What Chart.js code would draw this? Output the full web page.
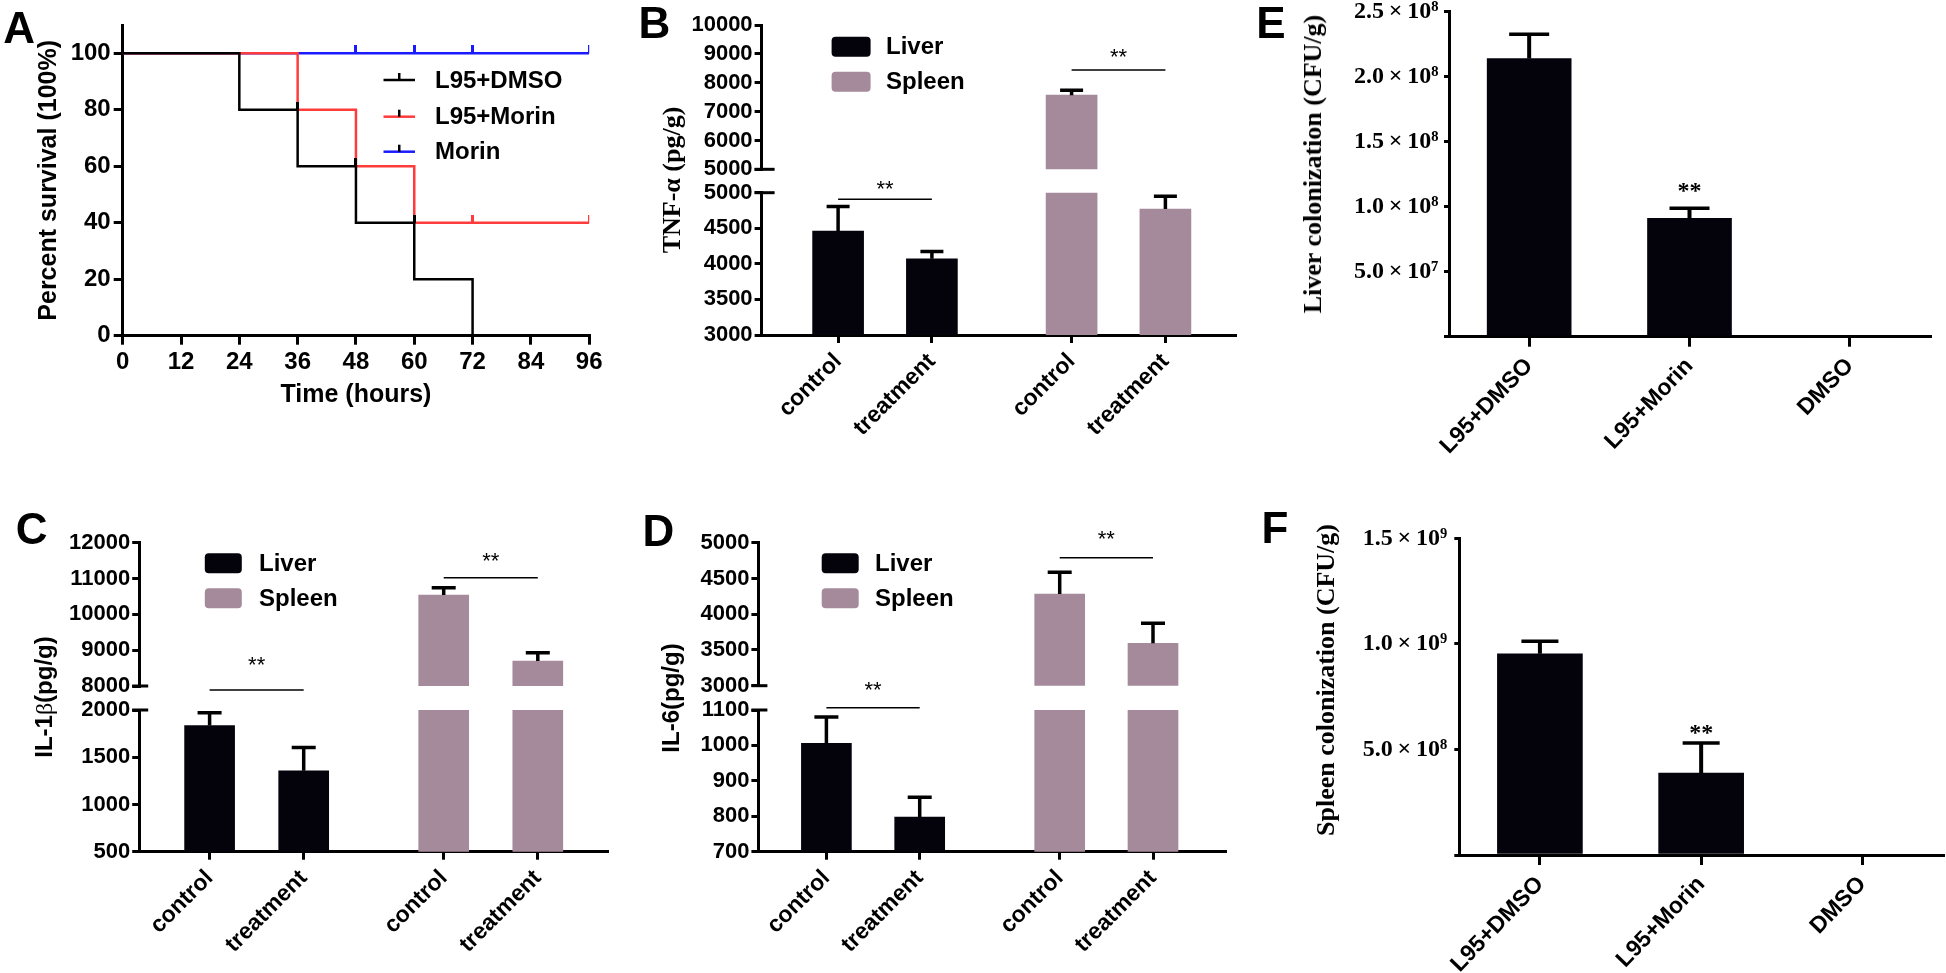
<!DOCTYPE html>
<html>
<head>
<meta charset="utf-8">
<title>Survival, cytokines and bacterial colonization</title>
<script src="https://cdn.jsdelivr.net/npm/chart.js@4.4.1/dist/chart.umd.min.js"></script>
<style>
  html,body{margin:0;padding:0;background:#fff;}
  #fig{position:relative;width:1946px;height:973px;overflow:hidden;background:#fff;}
  #fig canvas{position:absolute;}
  .panel-letter{position:absolute;transform:translate(-50%,-50%);font:bold 44px "Liberation Sans",Arial,sans-serif;line-height:1;color:#000;}
  .ytitle{position:absolute;white-space:nowrap;transform:translate(-50%,-50%) rotate(-90deg);line-height:1;color:#000;font-weight:bold;}
</style>
</head>
<body>
<div id="fig"></div>
<script>
// ======================= DATA =======================
// Panel A - survival
const timeTicks = [0, 12, 24, 36, 48, 60, 72, 84, 96];
const survivalTicks = [0, 20, 40, 60, 80, 100];
const survivalGroups = ['L95+DMSO', 'L95+Morin', 'Morin'];
const dmsoTimes = [0, 24, 36, 48, 60, 72];
const dmsoSurvival = [100, 80, 60, 40, 20, 0];
const dmsoCensored = [36, 48, 60];
const l95MorinTimes = [0, 36, 48, 60, 96];
const l95MorinSurvival = [100, 80, 60, 40, 40];
const l95MorinCensored = [72, 96];
const morinTimes = [0, 96];
const morinSurvival = [100, 100];
const morinCensored = [48, 60, 72, 96];

// Panels B-D - cytokines
const treatmentGroups = ['control', 'treatment'];
const tissueNames = ['Liver', 'Spleen'];

const tnfLiver = [4460, 4070];
const tnfLiverSem = [345, 105];
const tnfSpleen = [7570, 4770];
const tnfSpleenSem = [170, 180];
const tnfUpperTicks = [5000, 6000, 7000, 8000, 9000, 10000];
const tnfLowerTicks = [3000, 3500, 4000, 4500, 5000];

const il1bLiver = [1835, 1357];
const il1bLiverSem = [137, 245];
const il1bSpleen = [10540, 8695];
const il1bSpleenSem = [205, 235];
const il1bUpperTicks = [8000, 9000, 10000, 11000, 12000];
const il1bLowerTicks = [500, 1000, 1500, 2000];

const il6Liver = [1006, 798];
const il6LiverSem = [74, 56];
const il6Spleen = [4282, 3593];
const il6SpleenSem = [304, 281];
const il6UpperTicks = [3000, 3500, 4000, 4500, 5000];
const il6LowerTicks = [700, 800, 900, 1000, 1100];

// Panels E-F - colonization
const colonGroups = ['L95+DMSO', 'L95+Morin', 'DMSO'];
const liverCFU = [2.14e8, 0.91e8, 0];
const liverCFUSem = [0.186e8, 0.078e8, 0];
const liverCFUTicks = [0, 0.5e8, 1.0e8, 1.5e8, 2.0e8, 2.5e8];
const spleenCFU = [0.953e9, 0.388e9, 0];
const spleenCFUSem = [0.059e9, 0.142e9, 0];
const spleenCFUTicks = [0, 0.5e9, 1.0e9, 1.5e9];

// ======================= STYLE =======================
const SANS = '"Liberation Sans", Arial, Helvetica, sans-serif';
const SERIF = '"Liberation Serif", "Times New Roman", Times, serif';
const BLACK = '#000000', RED = '#ff3b3b', BLUE = '#1a1aff';
const LIVER_FILL = '#04030c', SPLEEN_FILL = '#a48a9a';

Chart.defaults.font.family = SANS;
Chart.defaults.font.weight = 'bold';
Chart.defaults.color = '#000';
Chart.defaults.animation = false;

const fig = document.getElementById('fig');
function place(box) {
  const c = document.createElement('canvas');
  c.width = box.w; c.height = box.h;
  c.style.left = box.x + 'px'; c.style.top = box.y + 'px';
  c.style.width = box.w + 'px'; c.style.height = box.h + 'px';
  fig.appendChild(c);
  return c;
}
function fixLayout(box, area, hasX) {
  return { padding: { left: 0, top: area.t - box.y, right: box.x + box.w - area.r,
                      bottom: hasX ? 0 : box.y + box.h - area.b } };
}
function axisLook(tickLen, w) {
  return {
    border: { display: true, color: '#000', width: w },
    grid: { display: true, drawOnChartArea: false, drawTicks: true, tickLength: tickLen,
            color: '#000', lineWidth: w, offset: false }
  };
}
const SUP = '⁰¹²³⁴⁵⁶⁷⁸⁹';
function sci(v) {
  const e = Math.floor(Math.log10(v) + 1e-9);
  const m = v / Math.pow(10, e);
  return m.toFixed(1) + '\u2009×\u200910' + String(e).split('').map(d => SUP[+d]).join('');
}

// ======================= PLUGINS =======================
function semBars(s) {
  return { id: 'semBars', afterDatasetsDraw(chart) {
    const { ctx, chartArea: a } = chart;
    ctx.save();
    ctx.beginPath(); ctx.rect(a.left, a.top - 2, a.right - a.left, a.bottom - a.top + 2); ctx.clip();
    ctx.strokeStyle = '#000';
    chart.data.datasets.forEach((ds, di) => {
      if (!ds.sem) return;
      const meta = chart.getDatasetMeta(di);
      const ys = chart.scales[meta.yAxisID];
      meta.data.forEach((bar, i) => {
        const e = ds.sem[i];
        if (!e) return;
        const v = meta.controller.getParsed(i).y;
        if (v + e < ys.min || v > ys.max) return;   // whole error bar outside this axis segment
        const yTop = ys.getPixelForValue(v + e);
        const yBase = ys.getPixelForValue(v);
        ctx.lineWidth = s.stem;
        ctx.beginPath(); ctx.moveTo(bar.x, yBase); ctx.lineTo(bar.x, yTop); ctx.stroke();
        if (v + e <= ys.max) {
          ctx.lineWidth = s.cap;
          ctx.beginPath(); ctx.moveTo(bar.x - s.capW / 2, yTop); ctx.lineTo(bar.x + s.capW / 2, yTop); ctx.stroke();
        }
      });
    });
    ctx.restore();
  } };
}
function sigMarks(s) {
  return { id: 'sigMarks', afterDatasetsDraw(chart) {
    const ctx = chart.ctx, xs = chart.scales.x, ys = chart.scales.y;
    ctx.save();
    ctx.fillStyle = '#000'; ctx.strokeStyle = '#000';
    ctx.font = s.font; ctx.textAlign = 'center'; ctx.textBaseline = 'alphabetic';
    s.marks.forEach(m => {
      let cx, cy;
      if (m.from !== undefined) {
        const x1 = xs.getPixelForValue(m.from), x2 = xs.getPixelForValue(m.to);
        const y = ys.getPixelForValue(m.value);
        ctx.lineWidth = 1.6;
        ctx.beginPath(); ctx.moveTo(x1, y); ctx.lineTo(x2, y); ctx.stroke();
        cx = (x1 + x2) / 2; cy = y - m.gap;
      } else {
        const ds = chart.data.datasets[0];
        const v = ds.data[m.at] + (ds.sem ? ds.sem[m.at] : 0);
        cx = xs.getPixelForValue(m.at); cy = ys.getPixelForValue(v) - m.gap;
      }
      ctx.fillText('**', cx, cy + s.shift);
    });
    ctx.restore();
  } };
}
function barLegend(s) {
  return { id: 'barLegend', afterDraw(chart) {
    const ctx = chart.ctx;
    ctx.save();
    ctx.font = 'bold ' + s.size + 'px ' + SANS; ctx.textBaseline = 'middle'; ctx.textAlign = 'left';
    chart.data.datasets.forEach((ds, k) => {
      const y = s.rows[k];
      ctx.fillStyle = ds.backgroundColor;
      ctx.beginPath(); ctx.roundRect(s.x, y - s.h / 2, s.w, s.h, 4); ctx.fill();
      ctx.fillStyle = '#000'; ctx.fillText(ds.label, s.textX, y + 1);
    });
    ctx.restore();
  } };
}
function breakMark(s) {
  return { id: 'breakMark', afterDraw(chart) {
    const a = chart.chartArea, ctx = chart.ctx;
    const y = s.edge === 'top' ? a.top : a.bottom;
    ctx.save(); ctx.strokeStyle = '#000'; ctx.lineWidth = 3;
    ctx.beginPath(); ctx.moveTo(a.left - s.left, y); ctx.lineTo(a.left + s.right, y); ctx.stroke();
    ctx.restore();
  } };
}
function survivalLegend(s) {
  return { id: 'survivalLegend', afterDraw(chart) {
    const ctx = chart.ctx;
    ctx.save();
    ctx.font = 'bold ' + s.size + 'px ' + SANS; ctx.textBaseline = 'middle'; ctx.textAlign = 'left';
    chart.data.datasets.filter(d => d.inLegend).forEach((ds, k) => {
      const y = s.rows[k], mid = (s.x1 + s.x2) / 2;
      ctx.strokeStyle = ds.borderColor; ctx.lineWidth = 2.5;
      ctx.beginPath(); ctx.moveTo(s.x1, y); ctx.lineTo(s.x2, y); ctx.stroke();
      ctx.strokeStyle = '#000';
      ctx.beginPath(); ctx.moveTo(mid, y); ctx.lineTo(mid, y - 7); ctx.stroke();
      ctx.fillStyle = '#000'; ctx.fillText(ds.label, s.textX, y + 1);
    });
    ctx.restore();
  } };
}

// ======================= PANEL A =======================
function survivalBefore(times, surv, t) {
  let v = surv[0];
  for (let i = 0; i < times.length; i++) if (times[i] < t) v = surv[i];
  return v;
}
function censorMark(color) {
  const c = document.createElement('canvas');
  c.width = 3; c.height = 16;
  const g = c.getContext('2d'); g.fillStyle = color; g.fillRect(0, 0, 3, 8);
  return c;
}
function stepSet(label, times, surv, color, order) {
  return { label, inLegend: true, order, data: times.map((t, i) => ({ x: t, y: surv[i] })),
           borderColor: color, backgroundColor: color, borderWidth: 2.5, stepped: true,
           pointRadius: 0, fill: false, tension: 0 };
}
function censorSet(times, surv, cens, color) {
  return { label: '', inLegend: false, order: -1, showLine: false,
           data: cens.map(t => ({ x: t, y: survivalBefore(times, surv, t) })),
           pointStyle: censorMark(color), pointRadius: 5, borderColor: color, backgroundColor: color };
}
(function () {
  const box = { x: 0, y: 0, w: 620, h: 420 };
  const area = { l: 122.7, r: 589.2, t: 25, b: 335.7 };
  new Chart(place(box), {
    type: 'line',
    data: { datasets: [
      stepSet(survivalGroups[0], dmsoTimes, dmsoSurvival, BLACK, 0),
      stepSet(survivalGroups[1], l95MorinTimes, l95MorinSurvival, RED, 1),
      stepSet(survivalGroups[2], morinTimes, morinSurvival, BLUE, 2),
      censorSet(dmsoTimes, dmsoSurvival, dmsoCensored, BLACK),
      censorSet(l95MorinTimes, l95MorinSurvival, l95MorinCensored, RED),
      censorSet(morinTimes, morinSurvival, morinCensored, BLUE)
    ] },
    options: {
      responsive: false, animation: false, events: [], devicePixelRatio: 1,
      layout: fixLayout(box, area, true),
      plugins: { legend: { display: false }, tooltip: { enabled: false } },
      scales: {
        x: { type: 'linear', min: 0, max: 96,
             afterBuildTicks: s => { s.ticks = timeTicks.map(v => ({ value: v })); },
             afterFit: s => { s.height = box.y + box.h - area.b; },
             ticks: { font: { size: 24, weight: 'bold' }, padding: 3, autoSkip: false, maxRotation: 0 },
             title: { display: true, text: 'Time (hours)', font: { size: 25, weight: 'bold' }, padding: { top: 0, bottom: 10 } },
             ...axisLook(9, 3) },
        y: { type: 'linear', min: 0, max: 110,
             afterBuildTicks: s => { s.ticks = survivalTicks.map(v => ({ value: v })); },
             afterFit: s => { s.width = area.l - box.x; },
             ticks: { font: { size: 24, weight: 'bold' }, padding: 3, autoSkip: false },
             title: { display: true, text: 'Percent survival (100%)', font: { size: 25, weight: 'bold' }, padding: { top: 34, bottom: 0 } },
             ...axisLook(9, 3) }
      }
    },
    plugins: [survivalLegend({ x1: 383.5, x2: 415, textX: 435, rows: [80, 116.7, 151.7], size: 24 })]
  });
})();

// ======================= PANELS B-D =======================
function brokenPanel(p) {
  const unit = p.ticksPx[1] - p.ticksPx[0];
  const groupStep = (p.ticksPx[2] - p.ticksPx[0]) / unit;
  const pos = [0, 1, groupStep, groupStep + 1];
  const xMin = -(p.ticksPx[0] - p.axisX) / unit;
  const xMax = (p.axisRight - p.ticksPx[0]) / unit;
  const ox = p.box.x, oy = p.box.y;
  const makeData = () => ({ datasets: [
    { label: tissueNames[0], data: p.liver.map((v, i) => ({ x: pos[i], y: v })), sem: p.liverSem,
      backgroundColor: LIVER_FILL, barThickness: p.barW, grouped: false, clip: 0, borderWidth: 0 },
    { label: tissueNames[1], data: p.spleen.map((v, i) => ({ x: pos[2 + i], y: v })), sem: p.spleenSem,
      backgroundColor: SPLEEN_FILL, barThickness: p.barW, grouped: false, clip: 0, borderWidth: 0 }
  ] });
  const yScale = ticks => ({
    type: 'linear', min: ticks[0], max: ticks[ticks.length - 1], beginAtZero: false,
    afterBuildTicks: s => { s.ticks = ticks.map(v => ({ value: v })); },
    afterFit: s => { s.width = p.axisX - ox; },
    ticks: { callback: v => String(v), font: { size: 22, weight: 'bold' }, padding: 2, autoSkip: false },
    ...axisLook(7, 3)
  });
  const xScale = show => {
    const sc = {
      type: 'linear', min: xMin, max: xMax, offset: false, display: show,
      afterBuildTicks: s => { s.ticks = pos.map(v => ({ value: v })); },
      ticks: { callback: (v, i) => treatmentGroups[i % 2], minRotation: 45, maxRotation: 45, autoSkip: false,
               font: { size: 23, weight: 'bold' }, padding: 5 },
      ...axisLook(8, 3)
    };
    if (show) sc.afterFit = s => { s.height = oy + p.box.h - p.lower.b; };
    return sc;
  };
  const common = { responsive: false, animation: false, events: [], devicePixelRatio: 1 };
  const sigFont = 'normal 22px ' + SANS;
  // upper part of the broken axis
  new Chart(place(p.box), {
    type: 'bar', data: makeData(),
    options: { ...common,
      layout: fixLayout(p.box, { l: p.axisX, r: p.axisRight, t: p.upper.t, b: p.upper.b }, false),
      plugins: { legend: { display: false }, tooltip: { enabled: false } },
      scales: { x: xScale(false), y: yScale(p.upperTicks) } },
    plugins: [
      semBars({ stem: 3.5, cap: 3.5, capW: p.capW }),
      sigMarks({ font: sigFont, shift: 12.5, marks: [{ from: pos[2], to: pos[3], value: p.sigUpper.value, gap: p.sigUpper.gap }] }),
      barLegend({ x: p.legend.x - ox, w: p.legend.w, h: 20, textX: p.legend.textX - ox,
                  rows: p.legend.rows.map(r => r - oy), size: 24 }),
      breakMark({ edge: 'bottom', left: 7, right: p.breakRight })
    ]
  });
  // lower part of the broken axis
  new Chart(place(p.box), {
    type: 'bar', data: makeData(),
    options: { ...common,
      layout: fixLayout(p.box, { l: p.axisX, r: p.axisRight, t: p.lower.t, b: p.lower.b }, true),
      plugins: { legend: { display: false }, tooltip: { enabled: false } },
      scales: { x: xScale(true), y: yScale(p.lowerTicks) } },
    plugins: [
      semBars({ stem: 3.5, cap: 3.5, capW: p.capW }),
      sigMarks({ font: sigFont, shift: 12.5, marks: [{ from: pos[0], to: pos[1], value: p.sigLower.value, gap: p.sigLower.gap }] }),
      breakMark({ edge: 'top', left: 7, right: p.breakRight })
    ]
  });
}

brokenPanel({
  box: { x: 620, y: 0, w: 620, h: 480 }, axisX: 761.6, axisRight: 1235,
  ticksPx: [838.1, 931.9, 1071.6], upper: { t: 25, b: 169.3 }, lower: { t: 192.7, b: 335 },
  liver: tnfLiver, liverSem: tnfLiverSem, spleen: tnfSpleen, spleenSem: tnfSpleenSem,
  upperTicks: tnfUpperTicks, lowerTicks: tnfLowerTicks,
  barW: 51, capW: 23, breakRight: 13,
  legend: { x: 831.6, w: 39, textX: 886, rows: [46.7, 81.7] },
  sigUpper: { value: 8441, gap: 18.3 }, sigLower: { value: 4907, gap: 16 }
});
brokenPanel({
  box: { x: 0, y: 480, w: 620, h: 493 }, axisX: 139.2, axisRight: 607,
  ticksPx: [209.6, 303.7, 443.7], upper: { t: 542.7, b: 686 }, lower: { t: 710, b: 851.7 },
  liver: il1bLiver, liverSem: il1bLiverSem, spleen: il1bSpleen, spleenSem: il1bSpleenSem,
  upperTicks: il1bUpperTicks, lowerTicks: il1bLowerTicks,
  barW: 50, capW: 24, breakRight: 9,
  legend: { x: 204.8, w: 37, textX: 259, rows: [563.3, 598.3] },
  sigUpper: { value: 11023, gap: 22.7 }, sigLower: { value: 2212, gap: 30 }
});
brokenPanel({
  box: { x: 620, y: 480, w: 620, h: 493 }, axisX: 758.4, axisRight: 1225,
  ticksPx: [826.4, 919.7, 1059.7], upper: { t: 542.7, b: 685.7 }, lower: { t: 710, b: 851.7 },
  liver: il6Liver, liverSem: il6LiverSem, spleen: il6Spleen, spleenSem: il6SpleenSem,
  upperTicks: il6UpperTicks, lowerTicks: il6LowerTicks,
  barW: 50, capW: 24, breakRight: 9,
  legend: { x: 821.7, w: 37, textX: 875, rows: [563.3, 598.3] },
  sigUpper: { value: 4790, gap: 24.4 }, sigLower: { value: 1106.5, gap: 22.7 }
});

// ======================= PANELS E-F =======================
function colonPanel(p) {
  new Chart(place(p.box), {
    type: 'bar',
    data: { labels: colonGroups, datasets: [{ label: p.label, data: p.values, sem: p.sem,
            backgroundColor: LIVER_FILL, barThickness: p.barW, clip: 0, borderWidth: 0 }] },
    options: {
      responsive: false, animation: false, events: [], devicePixelRatio: 1,
      layout: fixLayout(p.box, p.area, true),
      plugins: { legend: { display: false }, tooltip: { enabled: false } },
      scales: {
        x: { offset: true,
             afterFit: s => { s.height = p.box.y + p.box.h - p.area.b; },
             ticks: { minRotation: 46, maxRotation: 46, autoSkip: false, font: { size: 23, weight: 'bold' }, padding: 6 },
             ...axisLook(10, 3) },
        y: { type: 'linear', min: 0, max: p.ticks[p.ticks.length - 1], beginAtZero: true,
             afterBuildTicks: s => { s.ticks = p.ticks.map(v => ({ value: v })); },
             afterFit: s => { s.width = p.area.l - p.box.x; },
             ticks: { callback: v => (v === 0 ? '' : sci(v)), font: { family: SERIF, size: 24, weight: 'bold' },
                      padding: p.yPad, autoSkip: false },
             ...axisLook(5, 3) }
      }
    },
    plugins: [
      semBars({ stem: 4, cap: 3.5, capW: p.capW }),
      sigMarks({ font: 'bold 24px ' + SERIF, shift: 11.5, marks: [{ at: 1, gap: p.starGap }] })
    ]
  });
}
colonPanel({ box: { x: 1240, y: -10, w: 706, h: 490 }, area: { l: 1449, r: 1930, t: 11.7, b: 336.7 },
             label: 'Liver colonization', values: liverCFU, sem: liverCFUSem, ticks: liverCFUTicks,
             barW: 84, capW: 40, starGap: 21.6, yPad: 5.5 });
colonPanel({ box: { x: 1240, y: 480, w: 706, h: 493 }, area: { l: 1459.3, r: 1943, t: 538.3, b: 855 },
             label: 'Spleen colonization', values: spleenCFU, sem: spleenCFUSem, ticks: spleenCFUTicks,
             barW: 85, capW: 37, starGap: 15, yPad: 7 });

// ======================= TEXT OVERLAYS =======================
function addDiv(cls, html, x, y, css) {
  const d = document.createElement('div');
  d.className = cls; d.innerHTML = html;
  d.style.left = x + 'px'; d.style.top = y + 'px';
  if (css) Object.assign(d.style, css);
  fig.appendChild(d);
}
addDiv('ytitle', 'TNF-α (pg/g)', 672.4, 180, { fontFamily: SERIF, fontSize: '26px' });
addDiv('ytitle', 'IL-1<span style="font-family:' + SERIF.replace(/"/g, "'") + ';font-weight:normal">β</span>(pg/g)', 43.5, 696.7, { fontFamily: SANS, fontSize: '24px' });
addDiv('ytitle', 'IL-6(pg/g)', 671.4, 698.3, { fontFamily: SANS, fontSize: '24px' });
addDiv('ytitle', 'Liver colonization (CFU/g)', 1313, 164, { fontFamily: SERIF, fontSize: '26px' });
addDiv('ytitle', 'Spleen colonization (CFU/g)', 1325.5, 680, { fontFamily: SERIF, fontSize: '26px' });

[['A', 19.2, 27.5], ['B', 654.4, 23.3], ['C', 31.6, 529], ['D', 658.5, 530.8], ['E', 1271, 22.5], ['F', 1275, 528.3]]
  .forEach(([t, x, y]) => addDiv('panel-letter', t, x, y));
</script>
</body>
</html>
